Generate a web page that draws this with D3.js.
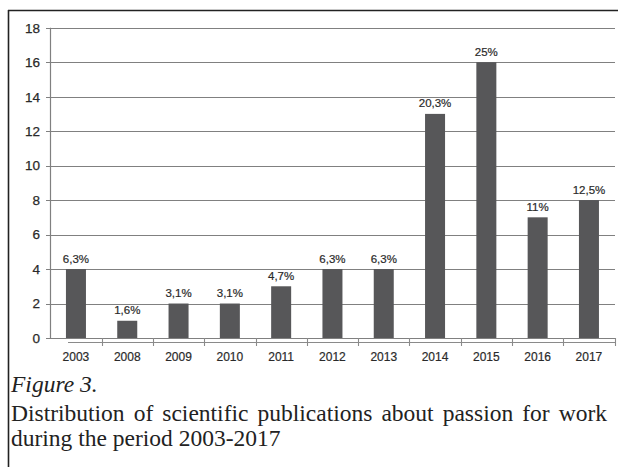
<!DOCTYPE html>
<html>
<head>
<meta charset="utf-8">
<script src="https://cdn.jsdelivr.net/npm/d3@7"></script>
<style>
  html, body { margin: 0; padding: 0; background: #fff; }
  svg { display: block; }
</style>
</head>
<body>
<svg id="chart" width="618" height="467"></svg>
<script>
const years = ["2003","2008","2009","2010","2011","2012","2013","2014","2015","2016","2017"];
const counts = [4, 1, 2, 2, 3, 4, 4, 13, 16, 7, 8];
const percentLabels = ["6,3%","1,6%","3,1%","3,1%","4,7%","6,3%","6,3%","20,3%","25%","11%","12,5%"];
const yTicks = [0, 2, 4, 6, 8, 10, 12, 14, 16, 18];
const captionTitle = "Figure 3.";
const captionLines = ["Distribution of scientific publications about passion for work", "during the period 2003-2017"];

const svg = d3.select("#chart");

// frame (left and top edges visible)
svg.append("line").attr("x1", 8.5).attr("x2", 8.5).attr("y1", 10).attr("y2", 467)
  .attr("stroke", "#222").attr("stroke-width", 1.6);
svg.append("line").attr("x1", 8).attr("x2", 618).attr("y1", 10.5).attr("y2", 10.5)
  .attr("stroke", "#222").attr("stroke-width", 1.6);

const x = d3.scaleBand().domain(years).range([50.3, 614.6]).paddingInner(0.61).paddingOuter(0.305);
const y = d3.scaleLinear().domain([0, 18]).range([338, 27.7]);

// gridlines
svg.append("g").selectAll("line").data(yTicks).join("line")
  .attr("x1", 46).attr("x2", 615)
  .attr("y1", d => Math.round(y(d)) + 0.5).attr("y2", d => Math.round(y(d)) + 0.5)
  .attr("stroke", "#808080").attr("stroke-width", 1.2);

// y axis line
svg.append("line").attr("x1", 50.5).attr("x2", 50.5).attr("y1", y(18)).attr("y2", y(0) + 1)
  .attr("stroke", "#808080").attr("stroke-width", 1.2);

const sans = "Liberation Sans, Arial, sans-serif";

// y tick labels
svg.append("g").selectAll("text").data(yTicks).join("text")
  .attr("x", 40).attr("y", d => y(d)).attr("dy", "0.36em")
  .attr("text-anchor", "end")
  .attr("font-family", sans).attr("font-size", 13.5)
  .attr("fill", "#2a2a2a").attr("stroke", "#2a2a2a").attr("stroke-width", 0.25)
  .text(d => d);

// bars
svg.append("g").selectAll("rect").data(years).join("rect")
  .attr("x", d => x(d)).attr("width", x.bandwidth())
  .attr("y", (d, i) => y(counts[i])).attr("height", (d, i) => y(0) - y(counts[i]))
  .attr("fill", "#575759");

// value labels
svg.append("g").selectAll("text").data(years).join("text")
  .attr("x", d => x(d) + x.bandwidth() / 2)
  .attr("y", (d, i) => y(counts[i]) - 6.5)
  .attr("text-anchor", "middle")
  .attr("font-family", sans).attr("font-size", 11.5)
  .attr("fill", "#2a2a2a").attr("stroke", "#2a2a2a").attr("stroke-width", 0.2)
  .text((d, i) => percentLabels[i]);

// x axis (offset line with boundary ticks)
const step = x.step();
const x0 = x.range()[0];
svg.append("line").attr("x1", 68).attr("x2", 615).attr("y1", 342.5).attr("y2", 342.5)
  .attr("stroke", "#8a8a8a").attr("stroke-width", 1.1);
svg.append("g").selectAll("line").data(d3.range(1, years.length + 1)).join("line")
  .attr("x1", i => Math.round(x0 + i * step) + 0.5).attr("x2", i => Math.round(x0 + i * step) + 0.5)
  .attr("y1", 338).attr("y2", 346)
  .attr("stroke", "#8a8a8a").attr("stroke-width", 1.1);

// x labels
svg.append("g").selectAll("text").data(years).join("text")
  .attr("x", d => x(d) + x.bandwidth() / 2).attr("y", 361)
  .attr("text-anchor", "middle")
  .attr("font-family", sans).attr("font-size", 12)
  .attr("fill", "#2a2a2a").attr("stroke", "#2a2a2a").attr("stroke-width", 0.2)
  .text(d => d);

// caption
const serif = "Liberation Serif, Times New Roman, serif";
svg.append("text").attr("x", 11).attr("y", 392)
  .attr("font-family", serif).attr("font-style", "italic")
  .attr("font-size", 23.5).attr("fill", "#222").text(captionTitle);

const l1 = svg.append("text").attr("x", 11).attr("y", 421)
  .attr("font-family", serif)
  .attr("font-size", 23.5).attr("fill", "#222").text(captionLines[0]);
const w = l1.node().getComputedTextLength();
const spaces = captionLines[0].split(" ").length - 1;
l1.attr("word-spacing", Math.max(0, (607 - 11 - w) / spaces));

svg.append("text").attr("x", 11).attr("y", 446)
  .attr("font-family", serif)
  .attr("font-size", 23.5).attr("fill", "#222").text(captionLines[1]);
</script>
</body>
</html>
